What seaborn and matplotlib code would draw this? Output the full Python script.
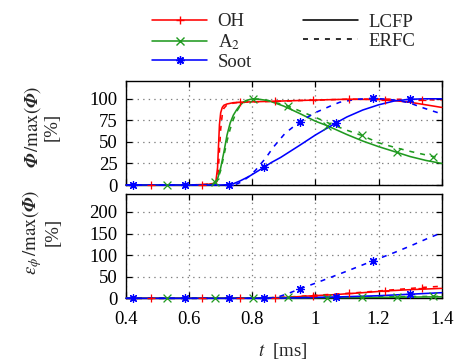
import matplotlib
matplotlib.use("Agg")
import matplotlib.pyplot as plt
import seaborn as sns
from matplotlib.lines import Line2D

# ---------------- data ----------------
# x axis ticks
x_ticks = [0.4, 0.6, 0.8, 1.0, 1.2, 1.4]
x_ticklabels = ["0.4", "0.6", "0.8", "1", "1.2", "1.4"]
top_yticks = [0, 25, 50, 75, 100]
bot_yticks = [0, 50, 100, 150, 200]

# top panel: Phi / max(Phi) [%]
OH_LCFP_t = [0.40, 0.478, 0.60, 0.66, 0.68, 0.685, 0.69, 0.693, 0.696, 0.70, 0.705, 0.71, 0.72, 0.74, 0.761, 0.80, 0.90, 0.993, 1.10, 1.22, 1.30, 1.35, 1.40]
OH_LCFP_v = [0, 0, 0, 0.8, 2, 5, 20, 45, 70, 84, 90, 92.5, 94, 95.5, 96, 96.5, 97.5, 98.5, 99.5, 99, 96, 93, 90]
OH_ERFC_t = [0.40, 0.60, 0.64, 0.68, 0.688, 0.692, 0.696, 0.70, 0.705, 0.71, 0.72, 0.74, 0.76, 0.80, 0.872, 0.95, 1.0, 1.106, 1.20, 1.337, 1.40]
OH_ERFC_v = [0, 0, 0.5, 1.5, 4, 15, 40, 65, 82, 89, 93, 95, 96, 96.5, 97, 98, 98.5, 99.5, 99.8, 99, 98.5]

A2_LCFP_t = [0.40, 0.531, 0.65, 0.67, 0.68, 0.69, 0.70, 0.71, 0.72, 0.73, 0.74, 0.75, 0.76, 0.77, 0.78, 0.801, 0.82, 0.85, 0.90, 0.95, 1.0, 1.036, 1.10, 1.15, 1.20, 1.257, 1.30, 1.35, 1.40]
A2_LCFP_v = [0, 0, 0, 0.5, 2, 7, 20, 38, 58, 72, 81, 87, 92, 95.5, 98, 100, 99.5, 98, 91.5, 83, 74, 69, 58.5, 51, 44.5, 38, 33, 28.5, 25]
A2_ERFC_t = [0.40, 0.65, 0.682, 0.69, 0.70, 0.71, 0.72, 0.73, 0.74, 0.75, 0.76, 0.78, 0.80, 0.82, 0.85, 0.914, 0.95, 1.003, 1.05, 1.10, 1.147, 1.20, 1.257, 1.306, 1.373, 1.40]
A2_ERFC_v = [0, 0, 3, 6, 17, 34, 51, 65, 76, 85, 91, 97.5, 99.5, 99.5, 98, 91.5, 86, 78, 70.5, 63.5, 57.5, 49, 43, 38.5, 33, 31.5]

Soot_LCFP_t = [0.40, 0.587, 0.70, 0.72, 0.74, 0.76, 0.79, 0.837, 0.86, 0.89, 0.92, 0.95, 1.0, 1.065, 1.10, 1.15, 1.20, 1.25, 1.30, 1.35, 1.40]
Soot_LCFP_v = [0, 0, 0, 0.3, 1.5, 4.5, 10, 20.5, 26, 32, 39, 46, 58, 72, 79, 87, 93, 97.5, 99.5, 100, 100]
Soot_ERFC_t = [0.40, 0.423, 0.726, 0.75, 0.768, 0.79, 0.81, 0.842, 0.867, 0.904, 0.951, 1.0, 1.05, 1.077, 1.13, 1.183, 1.23, 1.27, 1.30, 1.337, 1.37, 1.40]
Soot_ERFC_v = [0, 0, 0, 1, 4, 10, 17, 31, 44, 60, 73.6, 84, 92, 96, 99.5, 100.5, 99.5, 97.5, 95, 90, 86, 82.5]

# bottom panel: eps_phi / max(Phi) [%]
OH_LCFP_err_t = [0.40, 0.478, 0.761, 0.85, 0.90, 0.95, 0.993, 1.05, 1.10, 1.15, 1.22, 1.30, 1.40]
OH_LCFP_err_v = [0, 0, 0.5, 1, 2, 4, 6, 8, 10.5, 13, 17, 20, 23]
OH_ERFC_err_t = [0.40, 0.64, 0.80, 0.872, 0.95, 1.0, 1.106, 1.20, 1.337, 1.40]
OH_ERFC_err_v = [0, 0, 0.5, 1.5, 4.5, 7, 11.6, 17, 25, 28]
A2_LCFP_err_t = [0.40, 0.531, 0.801, 0.90, 1.036, 1.257, 1.40]
A2_LCFP_err_v = [0, 0, 0.5, 1, 1.5, 2.5, 3.5]
A2_ERFC_err_t = [0.40, 0.682, 0.80, 0.914, 1.147, 1.373, 1.40]
A2_ERFC_err_v = [0, 0, 0.8, 2, 3, 4.5, 4.5]
Soot_LCFP_err_t = [0.40, 0.587, 0.837, 0.90, 1.0, 1.065, 1.20, 1.30, 1.40]
Soot_LCFP_err_v = [0, 0, 0, 0.5, 2, 3, 6, 9.5, 13]
Soot_ERFC_err_t = [0.40, 0.423, 0.726, 0.85, 0.88, 0.91, 0.951, 1.0, 1.05, 1.10, 1.15, 1.183, 1.25, 1.30, 1.35, 1.40]
Soot_ERFC_err_v = [0, 0, 0, 0, 3, 10, 22, 35, 49, 63, 77.5, 87, 106, 121, 137, 152]

# times at which point symbols are drawn
OH_LCFP_marks = [0.478, 0.761, 0.993, 1.22]
OH_ERFC_marks = [0.64, 0.872, 1.106, 1.337]
A2_LCFP_marks = [0.531, 0.801, 1.036, 1.257]
A2_ERFC_marks = [0.682, 0.914, 1.147, 1.373]
Soot_LCFP_marks = [0.587, 0.837, 1.065, 1.30]
Soot_ERFC_marks = [0.423, 0.726, 0.951, 1.183]

species = ["OH", "A$_2$", "Soot"]
methods = ["LCFP", "ERFC"]

# ---------------- style ----------------
sns.set_theme(style="ticks")
plt.rcParams["font.family"] = ["Liberation Serif", "DejaVu Serif"]
plt.rcParams["mathtext.fontset"] = "stix"
plt.rcParams["lines.scale_dashes"] = False
FS = 13.5

RED, GREEN, BLUE = "#ff0000", "#209a20", "#0000ff"
STAR = (8, 2, 0)
DASH = (0, (3.6, 4.3))
LW = 1.15

fig = plt.figure(figsize=(4.57, 3.63), dpi=100)
ax1 = fig.add_axes([126 / 457, 1 - 185 / 363, 315.7 / 457, 104.3 / 363])
ax2 = fig.add_axes([126 / 457, 1 - 298.3 / 363, 315.7 / 457, 104 / 363])


def draw(ax, t, v, marks, color, marker, dashed):
    ls = DASH if dashed else "-"
    sns.lineplot(x=t, y=v, ax=ax, color=color, linewidth=LW, linestyle=ls,
                 sort=False, estimator=None, clip_on=False, zorder=3)
    idx = [t.index(m) for m in marks]
    sns.scatterplot(x=[t[i] for i in idx], y=[v[i] for i in idx], ax=ax,
                    marker=marker, color=color, s=32, linewidth=0.9,
                    clip_on=False, zorder=4)


top_series = [
    (OH_LCFP_t, OH_LCFP_v, OH_LCFP_marks, RED, "+", False),
    (OH_ERFC_t, OH_ERFC_v, OH_ERFC_marks, RED, "+", True),
    (A2_LCFP_t, A2_LCFP_v, A2_LCFP_marks, GREEN, "x", False),
    (A2_ERFC_t, A2_ERFC_v, A2_ERFC_marks, GREEN, "x", True),
    (Soot_LCFP_t, Soot_LCFP_v, Soot_LCFP_marks, BLUE, STAR, False),
    (Soot_ERFC_t, Soot_ERFC_v, Soot_ERFC_marks, BLUE, STAR, True),
]
bot_series = [
    (OH_LCFP_err_t, OH_LCFP_err_v, OH_LCFP_marks, RED, "+", False),
    (OH_ERFC_err_t, OH_ERFC_err_v, OH_ERFC_marks, RED, "+", True),
    (A2_LCFP_err_t, A2_LCFP_err_v, A2_LCFP_marks, GREEN, "x", False),
    (A2_ERFC_err_t, A2_ERFC_err_v, A2_ERFC_marks, GREEN, "x", True),
    (Soot_LCFP_err_t, Soot_LCFP_err_v, Soot_LCFP_marks, BLUE, STAR, False),
    (Soot_ERFC_err_t, Soot_ERFC_err_v, Soot_ERFC_marks, BLUE, STAR, True),
]
for s in top_series:
    draw(ax1, *s)
for s in bot_series:
    draw(ax2, *s)

for ax, yt, ymax in [(ax1, top_yticks, 121), (ax2, bot_yticks, 241)]:
    ax.set_xlim(0.4, 1.4)
    ax.set_ylim(0, ymax)
    ax.set_xticks(x_ticks)
    ax.set_yticks(yt)
    ax.set_yticklabels([str(v) for v in yt], fontsize=FS)
    ax.tick_params(direction="in", length=4, width=0.9, top=True, right=True,
                   colors="black", pad=6)
    ax.grid(True, linestyle=(0, (1, 3)), color="#808080", linewidth=0.9)
    ax.set_xlabel("")
    ax.set_ylabel("")
    for sp in ax.spines.values():
        sp.set_color("black")
        sp.set_linewidth(1.0)
        sp.set_visible(True)

ax1.set_xticklabels([])
ax2.set_xticklabels(x_ticklabels, fontsize=FS)
ax2.tick_params(axis="x", pad=9)

fig.text(41 / 457, 1 - 127 / 363,
         r"$\mathbfit{\Phi}\,/\mathrm{max}(\mathbfit{\Phi})$" + "\n[%]",
         rotation=90, ha="center", va="center", multialignment="center",
         fontsize=FS, linespacing=1.05)
fig.text(41 / 457, 1 - 232 / 363,
         r"$\epsilon_\phi\,/\mathrm{max}(\mathbfit{\Phi})$" + "\n[%]",
         rotation=90, ha="center", va="center", multialignment="center",
         fontsize=FS, linespacing=1.05)
fig.text(283 / 457, 1 - 351 / 363, r"$t$  [ms]", ha="center", va="center",
         fontsize=FS)

# legends
sp_handles = [
    Line2D([], [], color=RED, marker="+", markersize=6, lw=LW),
    Line2D([], [], color=GREEN, marker="x", markersize=6, lw=LW),
    Line2D([], [], color=BLUE, marker=STAR, markersize=6, lw=LW),
]
m_handles = [
    Line2D([], [], color="black", lw=LW),
    Line2D([], [], color="black", lw=LW, linestyle=DASH),
]
leg1 = fig.legend(sp_handles, species, loc="center left",
                  bbox_to_anchor=(152 / 457, 1 - 42 / 363), frameon=False,
                  fontsize=FS, handlelength=2.95, handletextpad=0.55,
                  labelspacing=0.1, borderpad=0, borderaxespad=0)
leg2 = fig.legend(m_handles, methods, loc="center left",
                  bbox_to_anchor=(303 / 457, 1 - 31.5 / 363), frameon=False,
                  fontsize=FS, handlelength=2.95, handletextpad=0.55,
                  labelspacing=0.1, borderpad=0, borderaxespad=0)

fig.savefig("out.png", dpi=100)
